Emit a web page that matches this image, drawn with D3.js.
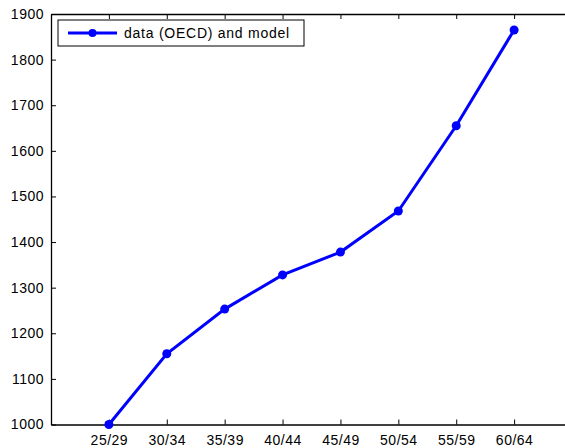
<!DOCTYPE html>
<html lang="en">
<head>
<meta charset="utf-8">
<title>data (OECD) and model</title>
<script src="https://cdn.jsdelivr.net/npm/d3@7/dist/d3.min.js"></script>
<style>
  body { margin: 0; background: #fff; }
  svg { display: block; font-family: "Liberation Sans", Arial, sans-serif; }
</style>
</head>
<body>
<script>
// age groups along the x axis
var groups = ["25/29", "30/34", "35/39", "40/44", "45/49", "50/54", "55/59", "60/64"];
// values
var values = [1000, 1155, 1253, 1328, 1378, 1468, 1655, 1865];
var yTicks = [1000, 1100, 1200, 1300, 1400, 1500, 1600, 1700, 1800, 1900];
var seriesName = "data (OECD) and model";

var W = 565, H = 448;
var plotLeft = 51, plotTop = 14, plotRight = 572, plotBottom = 424.5;

var svg = d3.select("body").append("svg")
    .attr("width", W)
    .attr("height", H);

// x positions 1..8 in a 0..9 axis (right edge falls outside the picture)
var x = d3.scaleLinear().domain([0, 9]).range([plotLeft, plotRight]);
var y = d3.scaleLinear().domain([1000, 1900]).range([plotBottom, plotTop]);

var tickLen = 5;
var xi = d3.range(1, groups.length + 1);

// bottom axis, ticks pointing inward
var xAxis = d3.axisBottom(x)
    .tickValues(xi)
    .tickFormat(function(d) { return groups[d - 1]; })
    .tickSizeInner(-tickLen)
    .tickSizeOuter(0)
    .tickPadding(11);
var gx = svg.append("g")
    .attr("transform", "translate(0," + plotBottom + ")")
    .call(xAxis);

// top mirror ticks
var gxt = svg.append("g")
    .attr("transform", "translate(0," + plotTop + ")")
    .call(d3.axisTop(x).tickValues(xi).tickFormat("").tickSizeInner(-tickLen).tickSizeOuter(0));

// left axis
var yAxis = d3.axisLeft(y)
    .tickValues(yTicks)
    .tickFormat(d3.format("d"))
    .tickSizeInner(-tickLen)
    .tickSizeOuter(0)
    .tickPadding(7);
var gy = svg.append("g")
    .attr("transform", "translate(" + plotLeft + ",0)")
    .call(yAxis);

// right mirror ticks
var gyr = svg.append("g")
    .attr("transform", "translate(" + plotRight + ",0)")
    .call(d3.axisRight(y).tickValues(yTicks).tickFormat("").tickSizeInner(-tickLen).tickSizeOuter(0));

[gx, gxt, gy, gyr].forEach(function(g) {
    g.select(".domain").attr("stroke", "#000").attr("stroke-width", 1.3);
    g.selectAll(".tick line").attr("stroke", "#000").attr("stroke-width", 1);
    g.selectAll("text")
        .attr("fill", "#000")
        .style("font-size", "14px")
        .style("letter-spacing", "0.5px")
        .style("font-family", "'Liberation Sans', Arial, sans-serif");
});

// the series
var line = d3.line()
    .x(function(d, i) { return x(i + 1); })
    .y(function(d) { return y(d); });

svg.append("path")
    .datum(values)
    .attr("d", line)
    .attr("fill", "none")
    .attr("stroke", "#0000ff")
    .attr("stroke-width", 3);

svg.append("g")
    .selectAll("circle")
    .data(values)
    .enter()
    .append("circle")
    .attr("cx", function(d, i) { return x(i + 1); })
    .attr("cy", function(d) { return y(d); })
    .attr("r", 4.5)
    .attr("fill", "#0000ff");

// legend
var lg = svg.append("g").attr("transform", "translate(58,20)");
lg.append("rect")
    .attr("width", 246)
    .attr("height", 26)
    .attr("fill", "#fff")
    .attr("stroke", "#000")
    .attr("stroke-width", 1);
lg.append("line")
    .attr("x1", 10).attr("x2", 59)
    .attr("y1", 13).attr("y2", 13)
    .attr("stroke", "#0000ff")
    .attr("stroke-width", 3);
lg.append("circle")
    .attr("cx", 34.5).attr("cy", 13)
    .attr("r", 4)
    .attr("fill", "#0000ff");
lg.append("text")
    .attr("x", 66)
    .attr("y", 18)
    .style("font-size", "14px")
    .style("letter-spacing", "0.75px")
    .attr("fill", "#000")
    .text(seriesName);
</script>
</body>
</html>
